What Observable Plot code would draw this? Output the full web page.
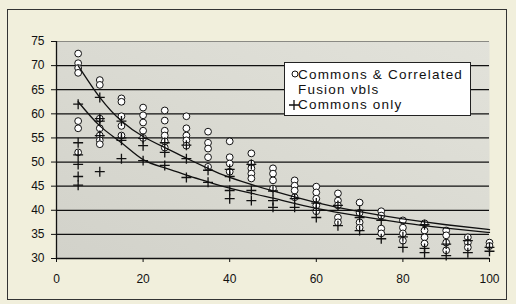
<!DOCTYPE html>
<html>
<head>
<meta charset="utf-8">
<script src="https://cdn.jsdelivr.net/npm/d3@7"></script>
<script src="https://cdn.jsdelivr.net/npm/@observablehq/plot@0.6"></script>
<style>
  html, body { margin: 0; padding: 0; background: #f1efdc; }
  #wrap { position: relative; width: 516px; height: 304px; overflow: hidden; }
  #border { position: absolute; left: 7px; top: 9px; width: 500px; height: 291px; border: 1.5px solid #333; box-sizing: border-box; pointer-events: none; }
  #legend { position: absolute; left: 284px; top: 62px; width: 187px; height: 54px; box-sizing: border-box;
    background: #fff; border: 1px solid #222; font-family: "Liberation Sans", Arial, sans-serif; font-size: 13.5px; letter-spacing: 1.2px; color: #111; }
  .row { position: absolute; left: 0; white-space: nowrap; line-height: 14px; height: 14px; }
  .row svg { position: absolute; }
</style>
</head>
<body>
<div id="wrap">
  <div id="chart"></div>
  <div id="border"></div>
  <div id="legend">
    <div class="row" style="top:5px;"><svg width="10" height="10" style="left:5px;top:1px;"><circle cx="5" cy="5" r="3" fill="#fff" stroke="#111" stroke-width="1"/></svg><span style="position:absolute;left:13px;">Commons &amp; Correlated</span></div>
    <div class="row" style="top:20px;"><span style="position:absolute;left:13px;">Fusion vbls</span></div>
    <div class="row" style="top:35px;"><svg width="12" height="12" style="left:3px;top:1px;"><path d="M1,6H11M6,1V11" stroke="#111" stroke-width="1.3"/></svg><span style="position:absolute;left:13px;">Commons only</span></div>
  </div>
</div>
<script>
const xValues = [5,10,15,20,25,30,35,40,45,50,55,60,65,70,75,80,85,90,95,100];

const correlatedY = [
  [72.5,70.5,69.5,68.5,58.5,57,52],
  [67,66,59,57,55.5,54.5,53.7],
  [63.2,62.5,59.5,57.5,55.5],
  [61.3,59.7,58.2,56.5,55],
  [60.7,58.6,56.5,55.5,54.3,53],
  [59.5,57,55.5,54.5,53.4],
  [56.3,54,52.8,51,49],
  [54.3,51,49.7,48],
  [51.8,49.7,48.7,47.6,46.6],
  [48.7,47.6,46.2,44.5],
  [46.2,45.1,44.1,42.7],
  [44.9,43.7,42.4,41,39.8],
  [43.5,42,41,38.5,37.5],
  [41.6,39.5,37.5,36.4],
  [39.8,38.9,36.2,35.2],
  [37.9,36.4,35.2,33.7],
  [37.3,35.8,34.4,33.1],
  [35.8,34.8,33.3,31.7],
  [34.4,33.3,32.3],
  [33.3,32.6]
];

const commonsY = [
  [62,54,51.5,49.5,47,45.2],
  [63.4,59,58.5,55.5,48],
  [58.5,55,54.5,50.7],
  [54.9,53.4,50.3],
  [54,52,49.3],
  [53.5,50.7,46.8],
  [48.3,45.8],
  [48.5,47,44.1,42.4],
  [49.5,44.1,42],
  [44,42,40.6],
  [42.4,40.6],
  [41.5,40,38.5],
  [41,36.8],
  [40,38.5,35.8],
  [37.9,34.1],
  [34.5,32.3],
  [37,32.1,31.2],
  [33,30.6],
  [33.7,31.2],
  [32.3,31.5]
];

const trendX = [5,10,15,20,25,30,35,40,50,60,70,80,90,100];
const trendCorrelated = [70,63.4,58.5,55.3,53,50.8,48.7,46.8,44,41.6,39.7,38.2,37,36];
const trendCommons = [62.5,57.5,54,50.5,48.8,47.3,45.9,44.6,42.5,40.4,38.8,37.4,36.3,35.4];

const xTicks = [0,20,40,60,80,100];
const yTicks = [30,35,40,45,50,55,60,65,70,75];
const gridLines = [35,40,45,50,55,60,65,70];

const circles = xValues.flatMap((x, i) => correlatedY[i].map(y => ({x, y})));
const pluses = xValues.flatMap((x, i) => commonsY[i].map(y => ({x, y})));
const lineA = trendX.map((x, i) => ({x, y: trendCorrelated[i]}));
const lineB = trendX.map((x, i) => ({x, y: trendCommons[i]}));

const chart = Plot.plot({
  width: 516, height: 304,
  marginLeft: 56, marginRight: 27, marginTop: 41, marginBottom: 46,
  x: {domain: [0, 100]},
  y: {domain: [30, 75]},
  style: {background: "transparent", fontFamily: "'Liberation Sans', Arial, sans-serif", fontSize: "12px", color: "#111"},
  marks: [
    Plot.frame({fill: "url(#plotgrad)", stroke: null}),
    Plot.ruleY(gridLines, {stroke: "#111", strokeWidth: 1.3}),
    Plot.ruleY([75], {stroke: "#8a8a84", strokeWidth: 1}),
    Plot.axisY({ticks: yTicks, tickSize: 5, tickPadding: 7, label: null, stroke: "#111"}),
    Plot.axisX({ticks: xTicks, tickSize: 4, tickPadding: 12, label: null, stroke: "#111"}),
    Plot.ruleX([0], {stroke: "#111", strokeWidth: 1.3, y1: 30, y2: 75}),
    Plot.ruleY([30], {stroke: "#111", strokeWidth: 1.5}),
    Plot.dot(circles, {x: "x", y: "y", r: 3.4, fill: "#fff", stroke: "#111", strokeWidth: 1}),
    Plot.dot(pluses, {x: "x", y: "y", symbol: "plus", r: 3.3, stroke: "#111", strokeWidth: 1.3}),
    Plot.line(lineA, {x: "x", y: "y", curve: "natural", stroke: "#111", strokeWidth: 1.3}),
    Plot.line(lineB, {x: "x", y: "y", curve: "natural", stroke: "#111", strokeWidth: 1.3})
  ]
});

const ns = "http://www.w3.org/2000/svg";
const defs = document.createElementNS(ns, "defs");
defs.innerHTML = '<linearGradient id="plotgrad" x1="0" y1="1" x2="1" y2="0"><stop offset="0" stop-color="#d2d2ca"/><stop offset="1" stop-color="#e2e2da"/></linearGradient>';
chart.insertBefore(defs, chart.firstChild);
document.getElementById("chart").appendChild(chart);
</script>
</body>
</html>
